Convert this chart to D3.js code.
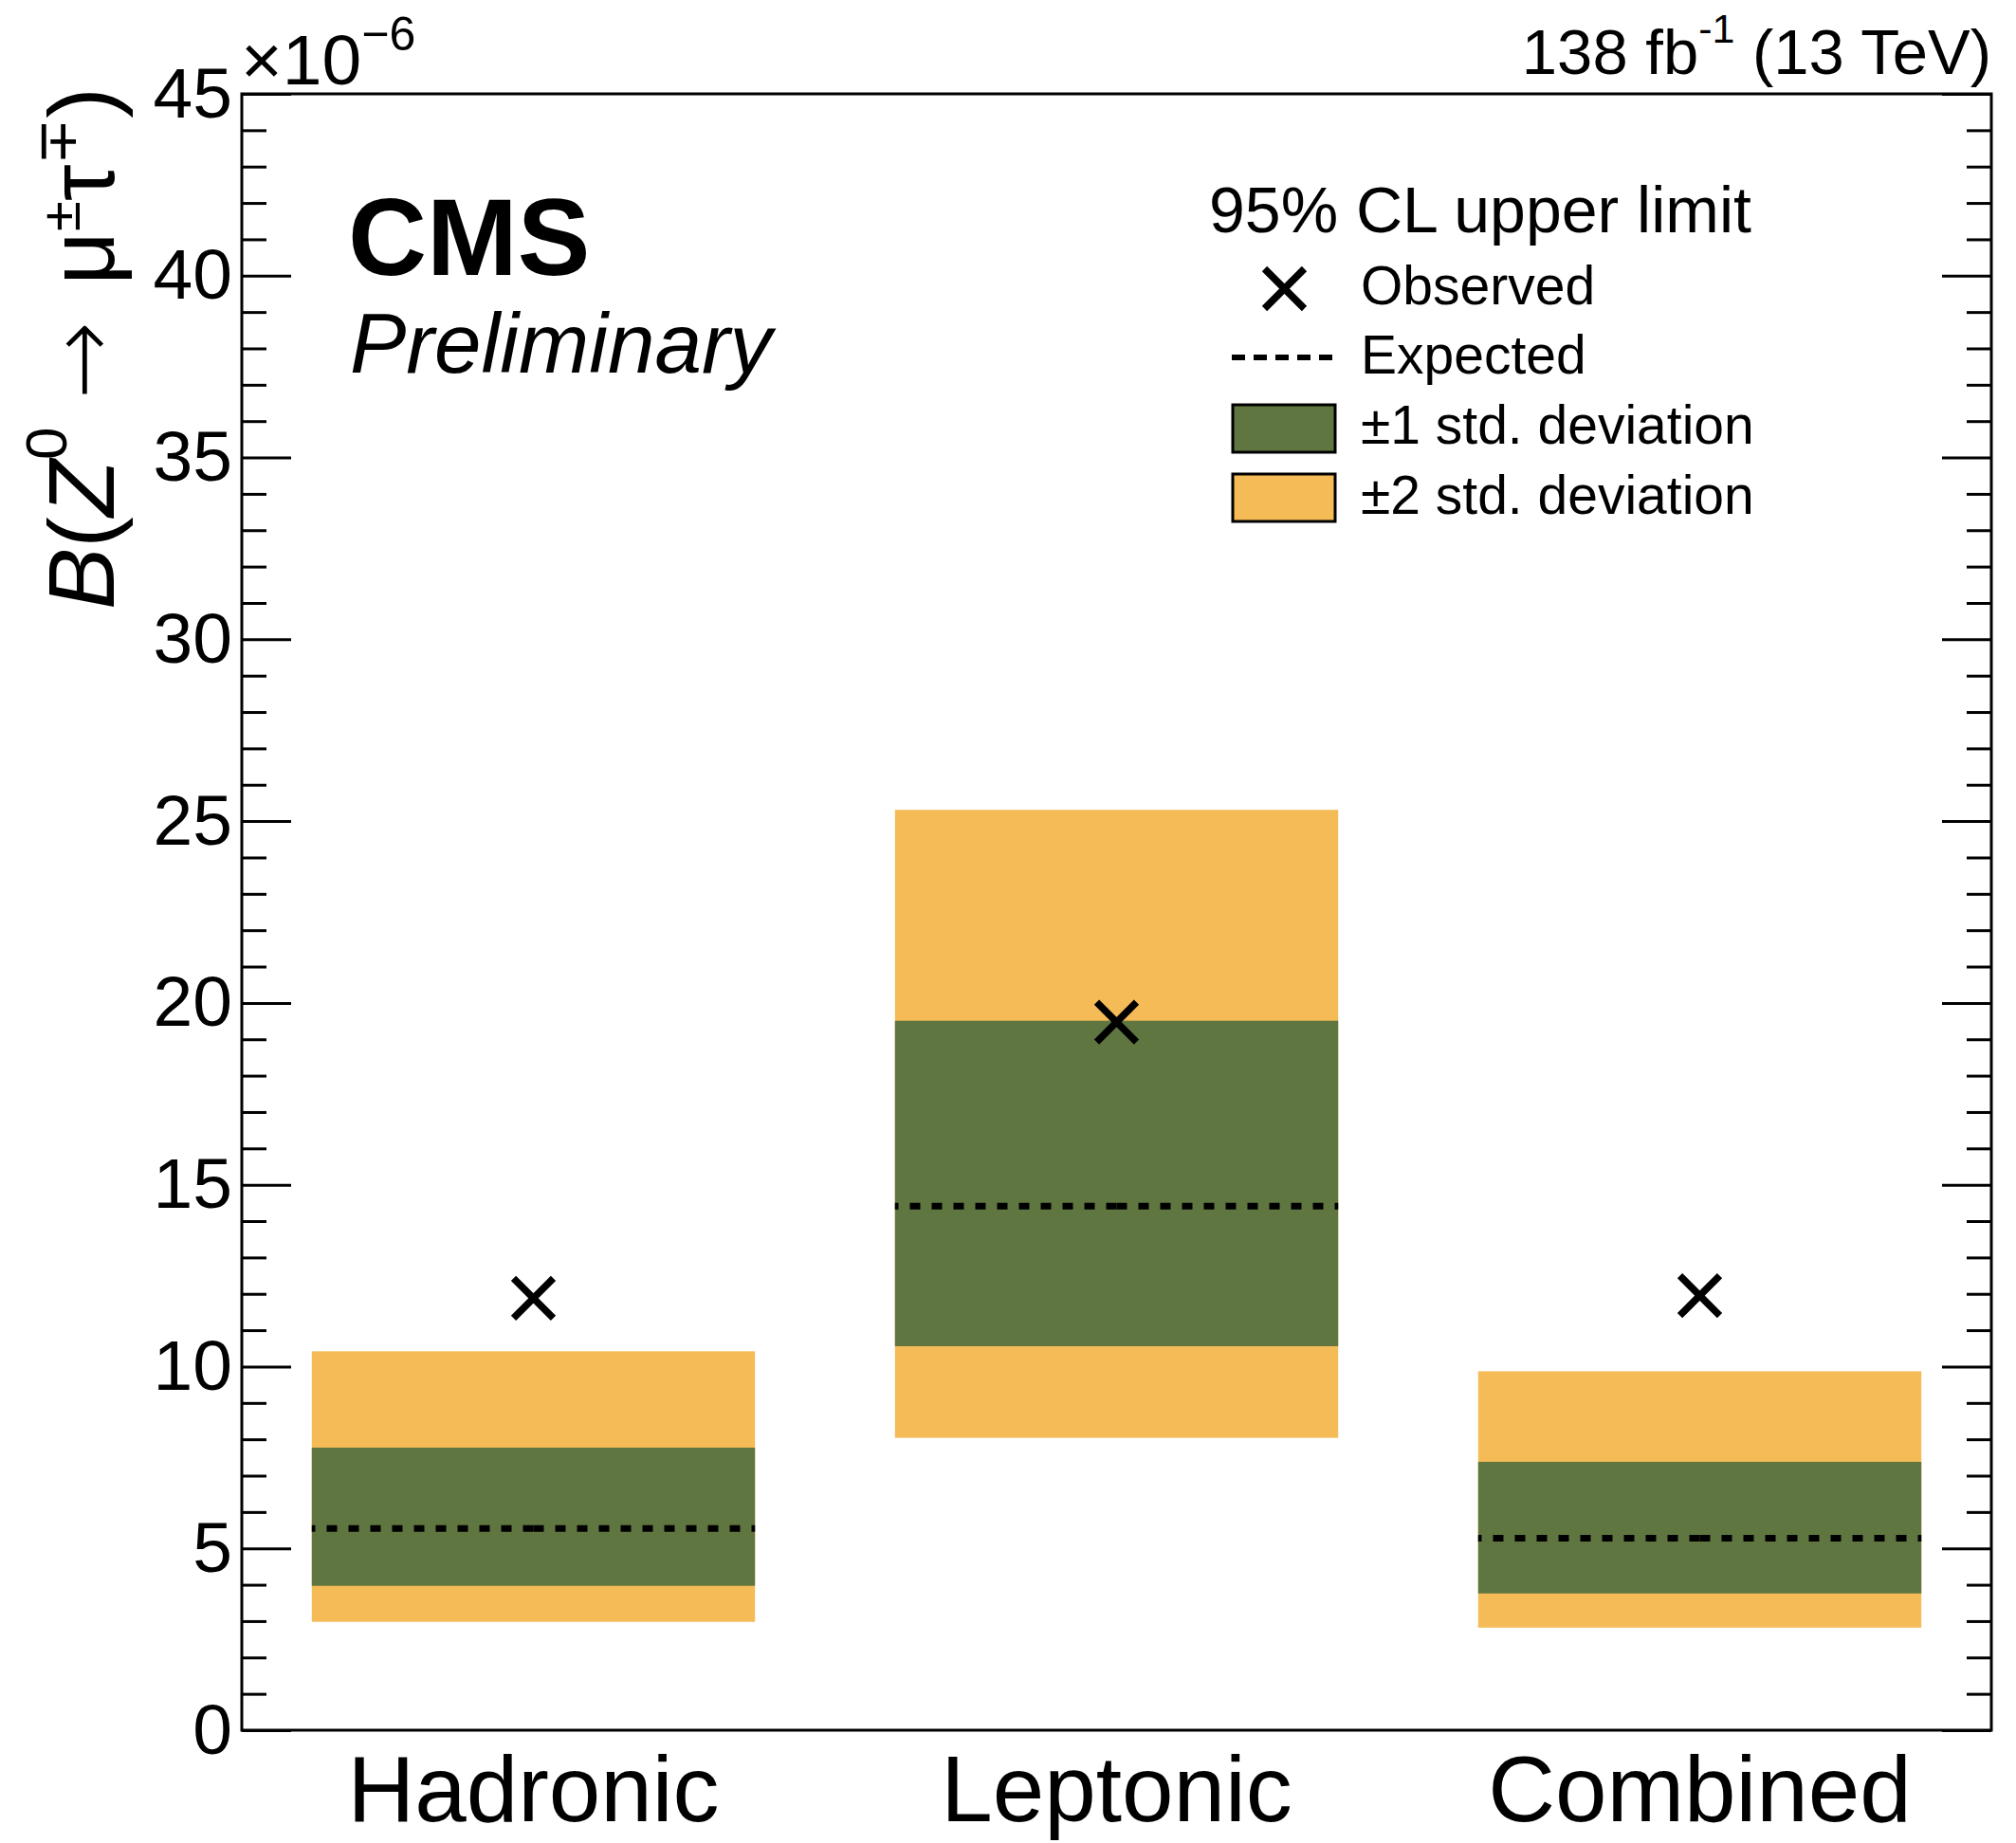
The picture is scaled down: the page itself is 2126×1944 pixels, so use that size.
<!DOCTYPE html>
<html>
<head>
<meta charset="utf-8">
<script src="https://cdn.jsdelivr.net/npm/d3@7"></script>
<style>
  html, body { margin: 0; padding: 0; background: #ffffff; }
  svg { display: block; }
  text { font-family: "Liberation Sans", Arial, Helvetica, "DejaVu Sans", sans-serif; fill: #000; }
</style>
</head>
<body>
<script>
// Upper limits on B(Z0 -> mu tau), in units of 1e-6
const categories = ["Hadronic", "Leptonic", "Combined"];
const observed   = [11.88, 19.47, 11.95];
const expected   = [5.55, 14.41, 5.28];
const band1Low   = [3.97, 10.56, 3.76];
const band1High  = [7.77, 19.51, 7.38];
const band2Low   = [2.98, 8.04, 2.82];
const band2High  = [10.42, 25.31, 9.87];
const majorTicks = [0, 5, 10, 15, 20, 25, 30, 35, 40, 45];
const minorTicks = d3.range(0, 46).filter(v => v % 5 !== 0);
const legendLabels = ["Observed", "Expected", "\u00B11 std. deviation", "\u00B12 std. deviation"];

const W = 2126, H = 1944;
const frame = { left: 255, right: 2100, top: 99, bottom: 1825 };
const colYellow = "#F4BB56";
const colGreen = "#607641";

const svg = d3.select("body").append("svg")
  .attr("width", W).attr("height", H);

const x = d3.scaleBand().domain(categories).range([frame.left, frame.right]).padding(0);
const y = d3.scaleLinear().domain([0, 45]).range([frame.bottom, frame.top]);

const rows = categories.map((c, i) => ({
  cat: c, obs: observed[i], exp: expected[i],
  lo1: band1Low[i], hi1: band1High[i], lo2: band2Low[i], hi2: band2High[i]
}));

const boxX0 = d => x(d.cat) + 0.12 * x.bandwidth();
const boxX1 = d => x(d.cat) + 0.88 * x.bandwidth();
const mid = d => x(d.cat) + 0.5 * x.bandwidth();

// +-2 sigma bands
svg.append("g").selectAll("rect").data(rows).join("rect")
  .attr("x", boxX0).attr("width", d => boxX1(d) - boxX0(d))
  .attr("y", d => y(d.hi2)).attr("height", d => y(d.lo2) - y(d.hi2))
  .attr("fill", colYellow);

// +-1 sigma bands
svg.append("g").selectAll("rect").data(rows).join("rect")
  .attr("x", boxX0).attr("width", d => boxX1(d) - boxX0(d))
  .attr("y", d => y(d.hi1)).attr("height", d => y(d.lo1) - y(d.hi1))
  .attr("fill", colGreen);

// expected limit: dashed line drawn outward from the bin centre
const expG = svg.append("g")
  .attr("stroke", "#000").attr("stroke-width", 7).attr("stroke-dasharray", "11 12");
expG.selectAll("line.l").data(rows).join("line").attr("class", "l")
  .attr("x1", mid).attr("x2", boxX0)
  .attr("y1", d => y(d.exp)).attr("y2", d => y(d.exp));
expG.selectAll("line.r").data(rows).join("line").attr("class", "r")
  .attr("x1", mid).attr("x2", boxX1)
  .attr("y1", d => y(d.exp)).attr("y2", d => y(d.exp));

// observed limit markers
const xMark = (g, cx, cy, s) => {
  g.append("path")
    .attr("d", `M${cx - s},${cy - s}L${cx + s},${cy + s}M${cx - s},${cy + s}L${cx + s},${cy - s}`)
    .attr("stroke", "#000").attr("stroke-width", 7.5).attr("fill", "none");
};
const obsG = svg.append("g");
rows.forEach(d => xMark(obsG, mid(d), y(d.obs), 21));

// axes: major and minor ticks on left and right, pointing inward
const axisFont = 75;
const leftMajor = svg.append("g").attr("transform", `translate(${frame.left},0)`)
  .call(d3.axisLeft(y).tickValues(majorTicks).tickSizeInner(-52).tickSizeOuter(0).tickPadding(10));
const leftMinor = svg.append("g").attr("transform", `translate(${frame.left},0)`)
  .call(d3.axisLeft(y).tickValues(minorTicks).tickSizeInner(-26).tickSizeOuter(0).tickFormat(""));
const rightMajor = svg.append("g").attr("transform", `translate(${frame.right},0)`)
  .call(d3.axisRight(y).tickValues(majorTicks).tickSizeInner(-52).tickSizeOuter(0).tickFormat(""));
const rightMinor = svg.append("g").attr("transform", `translate(${frame.right},0)`)
  .call(d3.axisRight(y).tickValues(minorTicks).tickSizeInner(-26).tickSizeOuter(0).tickFormat(""));
[leftMajor, leftMinor, rightMajor, rightMinor].forEach(g => {
  g.select(".domain").remove();
  g.selectAll(".tick line").attr("stroke", "#000").attr("stroke-width", 3);
});
leftMajor.selectAll(".tick text")
  .attr("font-size", axisFont).attr("font-family", null);

const bottomAxis = svg.append("g").attr("transform", `translate(0,${frame.bottom})`)
  .call(d3.axisBottom(x).tickSize(0).tickPadding(26));
bottomAxis.select(".domain").remove();
bottomAxis.selectAll(".tick text").attr("font-size", 98).attr("font-family", null);

// frame
svg.append("rect")
  .attr("x", frame.left).attr("y", frame.top)
  .attr("width", frame.right - frame.left).attr("height", frame.bottom - frame.top)
  .attr("fill", "none").attr("stroke", "#000").attr("stroke-width", 3);

// axis multiplier
const mult = svg.append("text").attr("x", 254).attr("y", 89).attr("font-size", axisFont);
mult.append("tspan").text("\u00D710");
mult.append("tspan").attr("font-size", 50).attr("dy", -36).text("\u22126");

// y axis title
const yt = svg.append("text")
  .attr("transform", "translate(120,643) rotate(-90)")
  .attr("font-size", 98);
yt.append("tspan").attr("font-style", "italic").text("B");
yt.append("tspan").text("(");
yt.append("tspan").attr("font-style", "italic").text("Z");
yt.append("tspan").attr("font-size", 62).attr("dy", -50).text("0");
yt.append("tspan").attr("dy", 50).attr("dx", 30)
  .attr("font-family", "DejaVu Sans").attr("font-weight", 200).text("\u2192");
yt.append("tspan").attr("dx", 38).attr("font-weight", "normal").text("\u03BC");
yt.append("tspan").attr("font-size", 58).attr("dy", -36).text("\u00B1");
yt.append("tspan").attr("dy", 36).text("\u03C4");
yt.append("tspan").attr("font-size", 58).attr("dy", -40).text("\u2213");
yt.append("tspan").attr("dy", 40).text(")");

// luminosity label
const lumi = svg.append("text").attr("x", 2100).attr("y", 78)
  .attr("text-anchor", "end").attr("font-size", 67);
lumi.append("tspan").text("138 fb");
lumi.append("tspan").attr("font-size", 43).attr("dy", -33).text("-1");
lumi.append("tspan").attr("dy", 33).text(" (13 TeV)");

// CMS label
svg.append("text").attr("x", 367).attr("y", 290)
  .attr("font-size", 115).attr("font-weight", "bold").text("CMS");
svg.append("text").attr("x", 369).attr("y", 393)
  .attr("font-size", 89).attr("font-style", "italic").text("Preliminary");

// legend
svg.append("text").attr("x", 1275).attr("y", 245).attr("font-size", 68).text("95% CL upper limit");
const legY = [321, 394, 468, 542];
const legG = svg.append("g");
legG.selectAll("text").data(legendLabels).join("text")
  .attr("x", 1435).attr("y", (d, i) => legY[i]).attr("font-size", 57).text(d => d);
xMark(legG, 1354.5, 304.5, 21);
legG.append("line").attr("x1", 1299).attr("x2", 1405).attr("y1", 377).attr("y2", 377)
  .attr("stroke", "#000").attr("stroke-width", 6).attr("stroke-dasharray", "14 9");
legG.append("rect").attr("x", 1300).attr("y", 427).attr("width", 108).attr("height", 50)
  .attr("fill", colGreen).attr("stroke", "#000").attr("stroke-width", 3);
legG.append("rect").attr("x", 1300).attr("y", 500).attr("width", 108).attr("height", 50)
  .attr("fill", colYellow).attr("stroke", "#000").attr("stroke-width", 3);
</script>
</body>
</html>
